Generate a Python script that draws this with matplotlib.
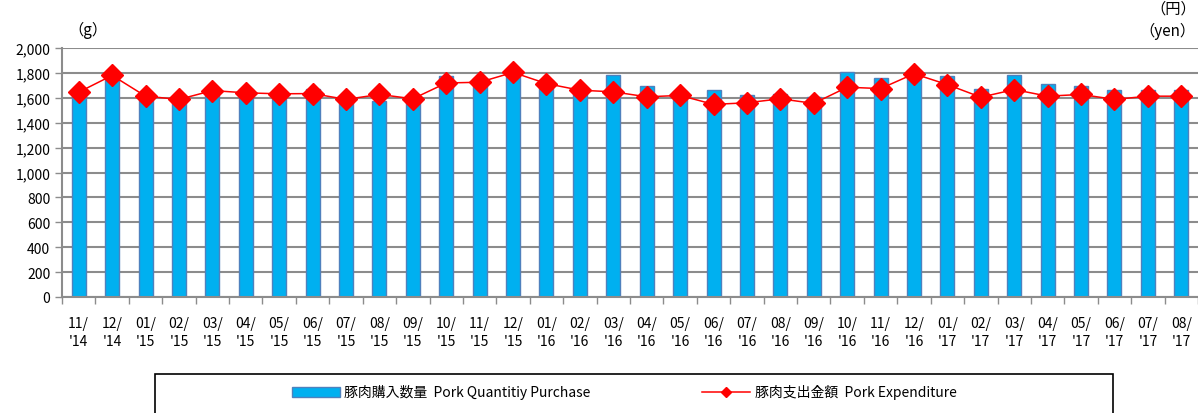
import numpy as np
import matplotlib
matplotlib.use("Agg")
import matplotlib.pyplot as plt
from matplotlib.patches import Rectangle
from matplotlib.ticker import FuncFormatter

plt.rcParams['font.family'] = ['Noto Sans CJK JP', 'DejaVu Sans']

# 月 (11/'14 ～ 08/'17)
months = ["11/\n'14", "12/\n'14", "01/\n'15", "02/\n'15", "03/\n'15", "04/\n'15",
          "05/\n'15", "06/\n'15", "07/\n'15", "08/\n'15", "09/\n'15", "10/\n'15",
          "11/\n'15", "12/\n'15", "01/\n'16", "02/\n'16", "03/\n'16", "04/\n'16",
          "05/\n'16", "06/\n'16", "07/\n'16", "08/\n'16", "09/\n'16", "10/\n'16",
          "11/\n'16", "12/\n'16", "01/\n'17", "02/\n'17", "03/\n'17", "04/\n'17",
          "05/\n'17", "06/\n'17", "07/\n'17", "08/\n'17"]

# 豚肉購入数量 (g)
quantity = [1630, 1760, 1620, 1600, 1650, 1670, 1640, 1670, 1610, 1575, 1600, 1772,
            1760, 1810, 1740, 1685, 1783, 1693, 1658, 1661, 1619, 1634, 1608, 1809,
            1762, 1825, 1772, 1672, 1780, 1714, 1693, 1666, 1666, 1661]

# 豚肉支出金額 (右軸, 左軸と同じ目盛で読み取り)
expenditure = [1645, 1780, 1613, 1587, 1658, 1640, 1632, 1634, 1587, 1627, 1592, 1719,
               1725, 1804, 1714, 1661, 1648, 1608, 1619, 1547, 1560, 1592, 1555, 1685,
               1674, 1793, 1706, 1605, 1666, 1613, 1627, 1587, 1613, 1613]

x = np.arange(len(months))

fig = plt.figure(figsize=(11.98, 4.14), dpi=100)
ax = fig.add_axes([62 / 1198, 1 - 298 / 414, 1 - 62 / 1198, (298 - 49) / 414])

bars = ax.bar(x, quantity, width=0.42, color='#00B0F0', edgecolor='#4F81BD',
              linewidth=1.0, zorder=2, label='豚肉購入数量  Pork Quantitiy Purchase')

ax2 = ax.twinx()
line, = ax2.plot(x, expenditure, color='#FF0000', lw=1.1, marker='D', markersize=11,
                 markerfacecolor='#FF0000', markeredgecolor='#FF0000', zorder=3,
                 label='豚肉支出金額  Pork Expenditure')

for a in (ax, ax2):
    a.set_ylim(0, 2000)
    a.set_xlim(-0.5, len(months) - 0.5)
ax2.axis('off')

ax.set_yticks(np.arange(0, 2001, 200))
ax.yaxis.set_major_formatter(FuncFormatter(lambda v, p: f"{int(v):,}"))
ax.grid(axis='y', color='#8C8C8C', lw=1.5, zorder=0)
ax.set_axisbelow(True)

ax.set_xticks(x)
ax.set_xticklabels(months, fontsize=10, linespacing=1.3)
ax.set_xticks(np.arange(-0.5, len(months), 1), minor=True)
ax.tick_params(axis='x', which='major', length=0, pad=14)
ax.tick_params(axis='x', which='minor', length=5, color='#8C8C8C', width=1)
ax.tick_params(axis='y', labelsize=10, length=5, color='#8C8C8C', width=1)

for s in ['top', 'right']:
    ax.spines[s].set_visible(False)
for s in ['left', 'bottom']:
    ax.spines[s].set_color('#8C8C8C')
    ax.spines[s].set_linewidth(1.5)

fig.text(68 / 1198, 1 - 30 / 414, '（g）', fontsize=11, va='center', ha='left')
fig.text(1196 / 1198, 1 - 9 / 414, '（円）', fontsize=11, va='center', ha='right')
fig.text(1196 / 1198, 1 - 31 / 414, '（yen）', fontsize=11, va='center', ha='right')

# 凡例の枠
fig.patches.append(Rectangle((155 / 1198, -0.05), (1113 - 155) / 1198, 0.05 + (414 - 375) / 414,
                             transform=fig.transFigure, fill=False, edgecolor='black', lw=1.2))
fig.legend([bars, line], [bars.get_label(), line.get_label()], loc='center',
           bbox_to_anchor=(624 / 1198, 1 - 393 / 414), ncol=2, frameon=False,
           fontsize=10, handlelength=3.5, columnspacing=8, handletextpad=0.3,
           markerscale=0.5)

fig.savefig('out.png', dpi=100)
